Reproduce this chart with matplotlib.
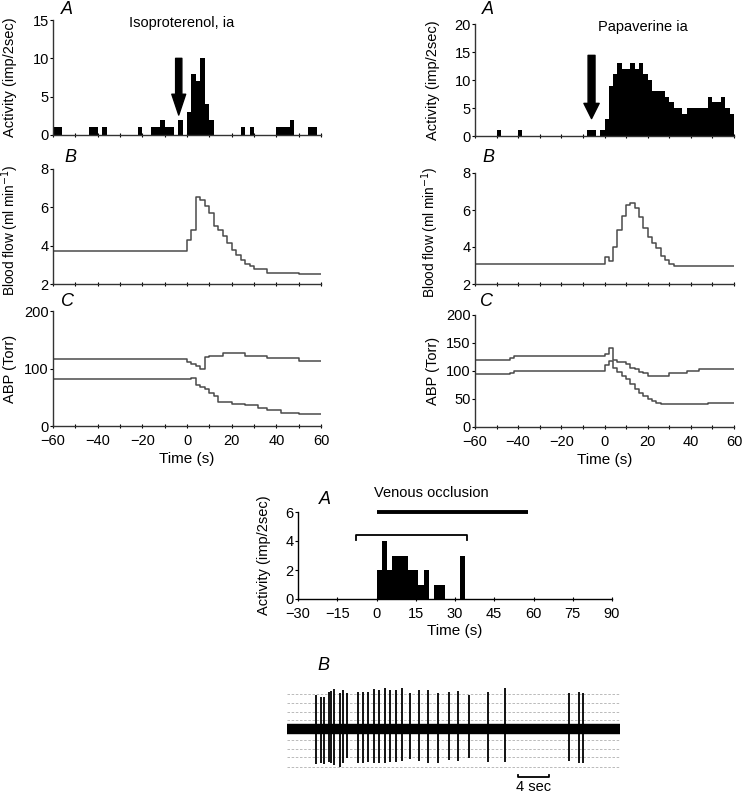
import matplotlib
matplotlib.use('Agg')
import matplotlib.pyplot as plt
import numpy as np

plt.rcParams['font.family'] = ['Liberation Sans', 'DejaVu Sans']
plt.rcParams['font.size'] = 10
plt.rcParams['axes.linewidth'] = 1.0

# --- data ---
# activity histograms, 2 s bins starting at -60 s
bin_left = np.arange(-60, 60, 2)
iso_counts = [1, 1, 0, 0, 0, 0, 0, 0, 1, 1, 0, 1, 0, 0, 0, 0, 0, 0, 0, 1,
              0, 0, 1, 1, 2, 1, 1, 0, 2, 0, 3, 8, 7, 10, 4, 2, 0, 0, 0, 0,
              0, 0, 1, 0, 1, 0, 0, 0, 0, 0, 1, 1, 1, 2, 0, 0, 0, 1, 1, 0]
pap_counts = [0, 0, 0, 0, 0, 1, 0, 0, 0, 0, 1, 0, 0, 0, 0, 0, 0, 0, 0, 0,
              0, 0, 0, 0, 0, 0, 1, 1, 0, 1, 3, 9, 11, 13, 12, 12, 13, 12, 13, 11,
              10, 8, 8, 8, 7, 6, 5, 5, 4, 5, 5, 5, 5, 5, 7, 6, 6, 7, 5, 4]
iso_arrow = (-3.7, 10.0, 2.6)     # x, top, tip
pap_arrow = (-6.0, 14.4, 3.1)

# blood flow (ml/min), step values starting at given times
iso_flow_t = [-60, 0, 2, 4, 6, 8, 10, 12, 14, 16, 18, 20, 22, 24, 26, 28, 30, 36, 50]
iso_flow_v = [3.7, 4.3, 4.8, 6.55, 6.4, 6.05, 5.7, 5.05, 4.8, 4.5, 4.15, 3.8, 3.5,
              3.25, 3.05, 2.95, 2.8, 2.6, 2.5]
pap_flow_t = [-60, 0, 2, 4, 6, 8, 10, 12, 14, 16, 18, 20, 22, 24, 26, 28, 30, 32, 34]
pap_flow_v = [3.1, 3.45, 3.25, 4.0, 4.9, 5.65, 6.25, 6.4, 6.1, 5.6, 5.05, 4.55, 4.2,
              3.95, 3.5, 3.3, 3.1, 3.0, 2.95]

# arterial blood pressure (Torr)
iso_sys_t = [-60, 0, 2, 4, 6, 8, 10, 16, 26, 36, 50]
iso_sys_v = [116, 112, 107, 104, 99, 120, 122, 127, 121, 119, 113]
iso_dia_t = [-60, 2, 4, 6, 8, 10, 12, 14, 20, 26, 32, 36, 42, 50]
iso_dia_v = [81, 84, 72, 68, 64, 58, 52, 42, 39, 36, 31, 27, 23, 21]
pap_sys_t = [-60, -44, -42, 0, 2, 4, 6, 10, 12, 14, 16, 18, 20, 30, 38, 44]
pap_sys_v = [120, 123, 126, 131, 141, 119, 116, 112, 106, 103, 99, 96, 91, 96, 100, 104]
pap_dia_t = [-60, -44, -42, 0, 2, 4, 6, 8, 10, 12, 14, 16, 18, 20, 22, 24, 26, 48]
pap_dia_v = [94, 97, 100, 110, 117, 106, 98, 91, 85, 76, 68, 60, 55, 50, 46, 43, 41, 43]

# venous occlusion histogram
occ_left = [0, 2, 4, 6, 8, 10, 12, 14, 16, 18, 20, 22, 24, 26, 28, 30, 32]
occ_counts = [2, 4, 2, 3, 3, 3, 2, 2, 1, 2, 0, 1, 1, 0, 0, 0, 3]
occ_period = (0, 58)
occ_bracket = (-8, 34.5, 4.4)

# raw nerve recording: spike times (s) and peak extents (arb. units)
spike_t = [3.70, 4.34, 4.77, 5.42, 5.68, 6.11, 6.84, 7.18, 7.70, 9.12, 9.76, 10.41,
           11.27, 11.91, 12.65, 13.29, 14.06, 14.80, 15.87, 17.03, 18.15, 19.44,
           20.94, 22.02, 23.48, 25.98, 28.13, 36.39, 37.72, 38.15]
spike_up = [103, 98, 96, 113, 116, 120, 110, 118, 108, 113, 113, 113, 120, 118, 125,
            118, 118, 123, 110, 118, 118, 108, 113, 116, 103, 113, 123, 110, 113, 108]
spike_dn = [104, 102, 104, 97, 102, 107, 112, 100, 87, 100, 100, 97, 100, 102, 100,
            97, 97, 94, 90, 94, 100, 100, 92, 94, 87, 97, 97, 94, 100, 100]
ruled_levels = [105, 79, 53, 28, -32, -58, -84, -112]
trace_len = 42.97
scale_bar = (29.85, 33.85, -142)

W, H = 742, 794
fig = plt.figure(figsize=(W / 100, H / 100), dpi=100)


def box(x0, x1, ytop, ybot):
    return [x0 / W, 1 - ybot / H, (x1 - x0) / W, (ybot - ytop) / H]


def style(ax, xlab=True):
    for s in ['top', 'right']:
        ax.spines[s].set_visible(False)
    ax.spines['left'].set_color('#333333')
    ax.spines['bottom'].set_color('#333333')
    ax.set_xlim(-60, 60)
    ax.set_xticks(np.arange(-60, 61, 20))
    ax.set_xticks(np.arange(-50, 60, 20), minor=True)
    ax.tick_params(axis='x', which='both', direction='inout', length=3, width=0.8,
                   labelsize=10.5, pad=4.5)
    ax.tick_params(axis='y', direction='out', length=2, width=0.8, pad=1, labelsize=10.5)
    if not xlab:
        ax.set_xticklabels([])
    else:
        ax.set_xlabel('Time (s)', fontsize=11, labelpad=3)


def letter(x, y, s):
    fig.text(x / W, 1 - y / H, s, fontsize=13, style='italic', ha='center', va='center')


line_kw = dict(where='post', color='#4a4a4a', lw=1.1)
lab_kw = dict(fontsize=10.5)

# ---- left column: isoproterenol ----
axA = fig.add_axes(box(53, 321, 20, 135))
axA.bar(bin_left, iso_counts, width=2, align='edge', color='black', linewidth=0)
axA.set_ylim(0, 15)
axA.set_yticks([0, 5, 10, 15])
style(axA, xlab=False)
axA.set_ylabel('Activity (imp/2sec)', **lab_kw)
axA.yaxis.set_label_coords(-0.135, 0.5)
axA.annotate('', xy=(iso_arrow[0], iso_arrow[2]), xytext=(iso_arrow[0], iso_arrow[1]),
             arrowprops=dict(width=4.5, headwidth=10, headlength=15, color='black'))
axA.text(0.48, 0.97, 'Isoproterenol, ia', transform=axA.transAxes, ha='center', va='center',
         fontsize=10.5)

axB = fig.add_axes(box(53, 321, 169, 284))
axB.step(np.append(iso_flow_t, 60), np.append(iso_flow_v, iso_flow_v[-1]), **line_kw)
axB.set_ylim(2, 8)
axB.set_yticks([2, 4, 6, 8])
style(axB, xlab=False)
axB.set_ylabel('Blood flow (ml min$^{-1}$)', fontsize=9.8)
axB.yaxis.set_label_coords(-0.118, 0.47)

axC = fig.add_axes(box(53, 321, 311, 426))
axC.step(np.append(iso_sys_t, 60), np.append(iso_sys_v, iso_sys_v[-1]), **line_kw)
axC.step(np.append(iso_dia_t, 60), np.append(iso_dia_v, iso_dia_v[-1]), **line_kw)
axC.set_ylim(0, 200)
axC.set_yticks([0, 100, 200])
style(axC)
axC.set_ylabel('ABP (Torr)', **lab_kw)
axC.yaxis.set_label_coords(-0.135, 0.5)

# ---- right column: papaverine ----
axD = fig.add_axes(box(475, 734, 24, 136))
axD.bar(bin_left, pap_counts, width=2, align='edge', color='black', linewidth=0)
axD.set_ylim(0, 20)
axD.set_yticks([0, 5, 10, 15, 20])
style(axD, xlab=False)
axD.set_ylabel('Activity (imp/2sec)', **lab_kw)
axD.yaxis.set_label_coords(-0.135, 0.5)
axD.annotate('', xy=(pap_arrow[0], pap_arrow[2]), xytext=(pap_arrow[0], pap_arrow[1]),
             arrowprops=dict(width=5, headwidth=11, headlength=11, color='black'))
axD.text(0.65, 0.97, 'Papaverine ia', transform=axD.transAxes, ha='center', va='center',
         fontsize=10.5)

axE = fig.add_axes(box(475, 734, 173, 284))
axE.step(np.append(pap_flow_t, 60), np.append(pap_flow_v, pap_flow_v[-1]), **line_kw)
axE.set_ylim(2, 8)
axE.set_yticks([2, 4, 6, 8])
style(axE, xlab=False)
axE.set_ylabel('Blood flow (ml min$^{-1}$)', fontsize=9.8)
axE.yaxis.set_label_coords(-0.13, 0.47)

axF = fig.add_axes(box(475, 734, 315, 427))
axF.step(np.append(pap_sys_t, 60), np.append(pap_sys_v, pap_sys_v[-1]), **line_kw)
axF.step(np.append(pap_dia_t, 60), np.append(pap_dia_v, pap_dia_v[-1]), **line_kw)
axF.set_ylim(0, 200)
axF.set_yticks([0, 50, 100, 150, 200])
style(axF)
axF.set_ylabel('ABP (Torr)', **lab_kw)
axF.yaxis.set_label_coords(-0.135, 0.5)

# ---- venous occlusion histogram ----
axG = fig.add_axes(box(298, 612, 512, 599))
axG.bar(occ_left, occ_counts, width=2, align='edge', color='black', linewidth=0)
axG.set_xlim(-30, 90)
axG.set_ylim(0, 6)
axG.set_xticks(np.arange(-30, 91, 15))
axG.set_yticks([0, 2, 4, 6])
for s in ['top', 'right']:
    axG.spines[s].set_visible(False)
axG.tick_params(axis='x', direction='inout', length=3, width=0.8, labelsize=10.5, pad=4.5)
axG.tick_params(axis='y', direction='out', length=2, width=0.8, pad=1, labelsize=10.5)
axG.set_xlabel('Time (s)', fontsize=11, labelpad=2)
axG.set_ylabel('Activity (imp/2sec)', **lab_kw)
axG.yaxis.set_label_coords(-0.086, 0.5)
axG.plot(occ_period, [6, 6], color='black', lw=2.8, clip_on=False, solid_capstyle='butt')
axG.text(21, 7.3, 'Venous occlusion', ha='center', va='center', fontsize=10.5)
bx0, bx1, by = occ_bracket
axG.plot([bx0, bx0, bx1, bx1], [by - 0.3, by, by, by - 0.3], color='black', lw=1.3)

# ---- raw nerve trace ----
axH = fig.add_axes(box(287, 620, 680, 794))
axH.set_xlim(0, trace_len)
axH.set_ylim(-194, 148)
axH.axis('off')
for lv in ruled_levels:
    axH.axhline(lv, color='#b0b0b0', lw=0.6, ls=(0, (3, 2)))
axH.axhline(0, color='black', lw=7.5)
axH.vlines(spike_t, -np.array(spike_dn), spike_up, color='black', lw=1.3)
sx0, sx1, sy = scale_bar
axH.plot([sx0, sx0, sx1, sx1], [sy + 5, sy, sy, sy + 5], color='black', lw=1.3)
axH.text((sx0 + sx1) / 2, sy - 30, '4 sec', ha='center', va='center', fontsize=10.5)

letter(67, 9, 'A')
letter(70, 157, 'B')
letter(68, 302, 'C')
letter(488, 9, 'A')
letter(488, 157, 'B')
letter(487, 301, 'C')
letter(325, 500, 'A')
letter(323, 665, 'B')

fig.savefig('out.png', dpi=100)
